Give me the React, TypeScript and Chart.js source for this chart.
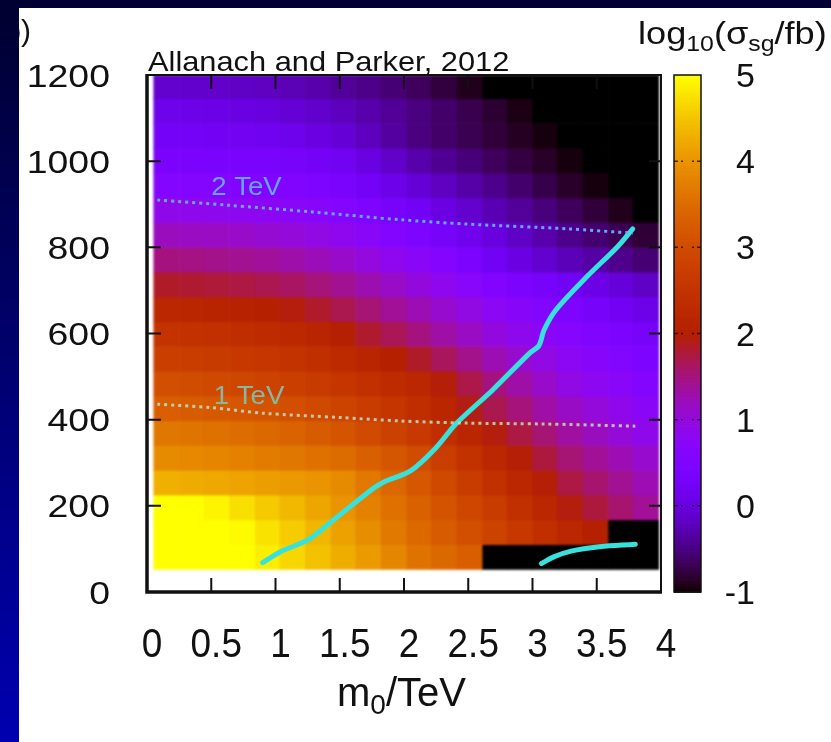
import React, { useEffect, useRef } from 'react';
import { Chart, registerables } from 'chart.js';
Chart.register(...registerables);

// ---- grid (cell edges) ----
const m0Edges = [0.05, 0.25, 0.44, 0.64, 0.84, 1.03, 1.23, 1.43, 1.62, 1.82, 2.02, 2.21, 2.41, 2.61, 2.80, 3.00, 3.19, 3.39, 3.59, 3.78, 3.98];
const mHalfEdges = [53, 110.5, 168, 225.5, 283, 340.5, 398, 455.5, 513, 570.5, 628, 685.5, 743, 800.5, 858, 915.5, 973, 1030.5, 1088, 1145.5, 1200];

// log10(sigma/fb); rows bottom -> top, columns left -> right; -2 = below colour range (black)
const log10SigmaRows: number[][] = [
  [5.4, 5.28, 5.16, 5.04, 4.86, 4.67, 4.47, 4.27, 4.08, 3.84, 3.6, 3.45, 3.3, -2, -2, -2, -2, -2, -2, -2],
  [5.3, 5.19, 5.08, 4.96, 4.76, 4.57, 4.37, 4.15, 3.92, 3.68, 3.45, 3.25, 3.05, 2.85, 2.63, 2.42, 2.2, 2.0, -2, -2],
  [5.1, 5.03, 4.92, 4.74, 4.55, 4.38, 4.2, 4.0, 3.78, 3.57, 3.35, 3.13, 2.92, 2.7, 2.45, 2.2, 1.95, 1.77, 1.58, 1.4],
  [4.3, 4.26, 4.22, 4.17, 4.12, 4.06, 4.0, 3.9, 3.67, 3.43, 3.2, 2.95, 2.7, 2.45, 2.22, 1.98, 1.75, 1.58, 1.42, 1.25],
  [3.9, 3.87, 3.83, 3.78, 3.72, 3.65, 3.58, 3.5, 3.33, 3.17, 3.0, 2.73, 2.47, 2.2, 1.98, 1.77, 1.55, 1.4, 1.25, 1.1],
  [3.65, 3.62, 3.57, 3.52, 3.45, 3.37, 3.27, 3.15, 2.98, 2.82, 2.65, 2.42, 2.18, 1.95, 1.75, 1.55, 1.35, 1.2, 1.05, 0.9],
  [3.3, 3.27, 3.23, 3.18, 3.12, 3.05, 2.96, 2.85, 2.7, 2.55, 2.4, 2.17, 1.93, 1.7, 1.52, 1.33, 1.15, 1.02, 0.88, 0.75],
  [3.05, 3.01, 2.96, 2.91, 2.85, 2.77, 2.67, 2.55, 2.43, 2.32, 2.2, 1.97, 1.73, 1.5, 1.32, 1.13, 0.95, 0.83, 0.72, 0.6],
  [2.75, 2.72, 2.68, 2.63, 2.57, 2.5, 2.41, 2.3, 2.15, 2.0, 1.85, 1.65, 1.45, 1.25, 1.1, 0.95, 0.8, 0.68, 0.57, 0.45],
  [2.5, 2.47, 2.43, 2.38, 2.32, 2.25, 2.14, 2.0, 1.83, 1.67, 1.5, 1.33, 1.17, 1.0, 0.87, 0.75, 0.62, 0.51, 0.41, 0.3],
  [2.2, 2.17, 2.13, 2.08, 2.02, 1.95, 1.84, 1.7, 1.55, 1.4, 1.25, 1.1, 0.95, 0.8, 0.68, 0.57, 0.45, 0.33, 0.22, 0.1],
  [1.85, 1.82, 1.79, 1.75, 1.7, 1.63, 1.53, 1.42, 1.28, 1.14, 1.0, 0.85, 0.7, 0.55, 0.43, 0.32, 0.2, 0.08, -0.03, -0.15],
  [1.5, 1.48, 1.45, 1.42, 1.38, 1.31, 1.23, 1.12, 0.99, 0.85, 0.72, 0.58, 0.42, 0.2, 0.05, -0.1, -0.22, -0.33, -0.44, -0.55],
  [1.2, 1.18, 1.16, 1.13, 1.08, 1.02, 0.94, 0.85, 0.72, 0.58, 0.45, 0.3, 0.15, 0.0, -0.15, -0.3, -0.45, -0.57, -0.68, -0.8],
  [0.9, 0.88, 0.86, 0.83, 0.79, 0.74, 0.68, 0.6, 0.47, 0.33, 0.2, 0.05, -0.1, -0.25, -0.38, -0.52, -0.65, -0.78, -0.9, -2],
  [0.6, 0.59, 0.58, 0.56, 0.54, 0.5, 0.45, 0.38, 0.24, 0.09, -0.05, -0.18, -0.32, -0.45, -0.58, -0.72, -0.85, -0.95, -2, -2],
  [0.4, 0.39, 0.38, 0.37, 0.35, 0.31, 0.26, 0.19, 0.03, -0.13, -0.3, -0.42, -0.53, -0.65, -0.75, -0.85, -0.95, -2, -2, -2],
  [0.25, 0.24, 0.23, 0.21, 0.18, 0.13, 0.05, -0.05, -0.2, -0.35, -0.5, -0.6, -0.69, -0.78, -0.87, -0.95, -2, -2, -2, -2],
  [0.12, 0.1, 0.08, 0.04, 0.0, -0.06, -0.13, -0.2, -0.3, -0.4, -0.5, -0.6, -0.7, -0.82, -0.93, -2, -2, -2, -2, -2],
  [-0.1, -0.11, -0.13, -0.15, -0.18, -0.24, -0.3, -0.38, -0.46, -0.55, -0.65, -0.77, -0.9, -2, -2, -2, -2, -2, -2, -2],
];

// ---- overlaid curves ----
const gluino2TeV_m0 = [0.08, 0.62, 1.29, 1.97, 2.49, 3.27, 3.78];
const gluino2TeV_mh = [910, 898, 882, 864, 854, 843, 833];
const gluino1TeV_m0 = [0.08, 0.5, 0.9, 1.5, 1.97, 2.49, 3.08, 3.8];
const gluino1TeV_mh = [436, 428, 415, 405, 397, 392, 390, 385];
const boundary_m0 = [0.9, 1.05, 1.26, 1.45, 1.76, 1.84, 2.05, 2.24, 2.41, 2.69, 2.98, 3.05, 3.09, 3.18, 3.42, 3.66, 3.78];
const boundary_mh = [68, 95, 122, 167, 240, 255, 281, 332, 392, 469, 555, 572, 608, 654, 731, 801, 843];
const lowBoundary_m0 = [3.07, 3.17, 3.3, 3.52, 3.8];
const lowBoundary_mh = [66, 82, 95, 105, 111];

// ---- tick labels ----
const xTicks = [0, 0.5, 1, 1.5, 2, 2.5, 3, 3.5, 4];
const xTickLabels = ['0', '0.5', '1', '1.5', '2', '2.5', '3', '3.5', '4'];
const yTicks = [0, 200, 400, 600, 800, 1000, 1200];
const yTickLabels = ['0', '200', '400', '600', '800', '1000', '1200'];
const cbTicks = [-1, 0, 1, 2, 3, 4, 5];
const cbTickLabels = ['-1', '0', '1', '2', '3', '4', '5'];

const FONT = '"Liberation Sans", Arial, Helvetica, sans-serif';

function palette(v: number): string {
  if (v < -1) return 'rgb(0,0,0)';
  const t = Math.min(1, Math.max(0, (v + 1) / 6));
  const r = Math.sqrt(t);
  const g = t * t * t;
  const b = Math.max(0, Math.sin(2 * Math.PI * t));
  return `rgb(${Math.round(r * 255)},${Math.round(g * 255)},${Math.round(b * 255)})`;
}

function txt(ctx: CanvasRenderingContext2D, s: string, x: number, y: number, size: number, sx: number, align: CanvasTextAlign, color = '#111') {
  ctx.save();
  ctx.font = `${size}px ${FONT}`;
  ctx.fillStyle = color;
  ctx.textAlign = align;
  ctx.textBaseline = 'alphabetic';
  ctx.translate(x, y);
  ctx.scale(sx, 1);
  ctx.fillText(s, 0, 0);
  ctx.restore();
}

function pts(xs: number[], ys: number[]) {
  return xs.map((x, i) => ({ x, y: ys[i] }));
}

const decor = {
  id: 'decor',
  beforeDraw(chart: any) {
    const ctx = chart.ctx as CanvasRenderingContext2D;
    ctx.save();
    ctx.fillStyle = '#ffffff';
    ctx.fillRect(0, 0, chart.width, chart.height);
    ctx.restore();
  },
  beforeDatasetsDraw(chart: any) {
    const ctx = chart.ctx as CanvasRenderingContext2D;
    const { chartArea: a, scales } = chart;
    const xs = scales.x, ys = scales.y;
    const w = Math.ceil(a.right - a.left), h = Math.ceil(a.bottom - a.top);
    const off = document.createElement('canvas');
    off.width = w;
    off.height = h;
    const o = off.getContext('2d') as CanvasRenderingContext2D;
    o.fillStyle = '#ffffff';
    o.fillRect(0, 0, w, h);
    for (let r = 0; r < log10SigmaRows.length; r++) {
      const row = log10SigmaRows[r];
      const yb = ys.getPixelForValue(mHalfEdges[r]) - a.top;
      const yt = ys.getPixelForValue(mHalfEdges[r + 1]) - a.top;
      for (let c = 0; c < row.length; c++) {
        const xl = xs.getPixelForValue(m0Edges[c]) - a.left;
        const xr = xs.getPixelForValue(m0Edges[c + 1]) - a.left;
        o.fillStyle = palette(row[c]);
        o.fillRect(xl, yt, xr - xl + 0.6, yb - yt + 0.6);
      }
    }
    ctx.save();
    ctx.beginPath();
    ctx.rect(a.left, a.top, a.right - a.left, a.bottom - a.top);
    ctx.clip();
    ctx.filter = 'blur(1px)';
    ctx.drawImage(off, a.left, a.top);
    ctx.filter = 'none';
    ctx.restore();
  },
  afterDatasetsDraw(chart: any) {
    const ctx = chart.ctx as CanvasRenderingContext2D;
    const { chartArea: a, scales } = chart;
    const xs = scales.x, ys = scales.y, cb = scales.cb;

    // curve labels
    txt(ctx, '2 TeV', xs.getPixelForValue(0.5), ys.getPixelForValue(921), 26, 1.06, 'left', '#63a4f4');
    txt(ctx, '1 TeV', xs.getPixelForValue(0.52), ys.getPixelForValue(436), 26, 1.06, 'left', '#86b8a4');

    // frame
    ctx.save();
    ctx.strokeStyle = '#111';
    ctx.lineWidth = 2;
    ctx.strokeRect(a.left, a.top, a.right - a.left, a.bottom - a.top);
    ctx.lineWidth = 3.5;
    ctx.beginPath();
    ctx.moveTo(a.left, a.top - 1);
    ctx.lineTo(a.left, a.bottom);
    ctx.lineTo(a.right + 1, a.bottom);
    ctx.stroke();
    // inward ticks
    ctx.lineWidth = 2;
    for (const t of xTicks) {
      if (t <= 0 || t >= 4) continue;
      const px = xs.getPixelForValue(t);
      ctx.beginPath();
      ctx.moveTo(px, a.bottom);
      ctx.lineTo(px, a.bottom - 14);
      ctx.moveTo(px, a.top);
      ctx.lineTo(px, a.top + 14);
      ctx.stroke();
    }
    for (const t of yTicks) {
      if (t <= 0 || t >= 1200) continue;
      const py = ys.getPixelForValue(t);
      ctx.beginPath();
      ctx.moveTo(a.left, py);
      ctx.lineTo(a.left + 14, py);
      ctx.moveTo(a.right, py);
      ctx.lineTo(a.right - 12, py);
      ctx.stroke();
    }
    ctx.restore();

    // tick labels
    xTicks.forEach((t, i) => {
      txt(ctx, xTickLabels[i], xs.getPixelForValue(t) + 5, 657, 41, 0.9, 'center');
    });
    yTicks.forEach((t, i) => {
      txt(ctx, yTickLabels[i], 110, ys.getPixelForValue(t) + 11.5, 32, 1.17, 'right');
    });

    // axis title m0/TeV
    ctx.save();
    ctx.fillStyle = '#111';
    ctx.textBaseline = 'alphabetic';
    let x0 = 337;
    const by = 706;
    ctx.font = `40px ${FONT}`;
    ctx.fillText('m', x0, by); x0 += ctx.measureText('m').width;
    ctx.font = `28px ${FONT}`;
    ctx.fillText('0', x0, by + 8); x0 += ctx.measureText('0').width;
    ctx.font = `40px ${FONT}`;
    ctx.fillText('/TeV', x0, by);
    ctx.restore();

    // colour bar
    const cbL = 674, cbR = 701;
    const top = cb.getPixelForValue(5), bot = cb.getPixelForValue(-1);
    const steps = 240;
    for (let i = 0; i < steps; i++) {
      const v0 = -1 + (6 * i) / steps;
      const v1 = -1 + (6 * (i + 1)) / steps;
      const y0 = cb.getPixelForValue(v0), y1 = cb.getPixelForValue(v1);
      ctx.fillStyle = palette((v0 + v1) / 2);
      ctx.fillRect(cbL, y1, cbR - cbL, y0 - y1 + 0.8);
    }
    ctx.save();
    ctx.strokeStyle = '#111';
    ctx.lineWidth = 1.5;
    ctx.strokeRect(cbL, top, cbR - cbL, bot - top);
    ctx.strokeStyle = 'rgba(20,0,20,0.75)';
    ctx.lineWidth = 1.5;
    ctx.setLineDash([4, 3]);
    for (const t of cbTicks) {
      if (t <= -1 || t >= 5) continue;
      const py = cb.getPixelForValue(t);
      ctx.beginPath();
      ctx.moveTo(cbL, py);
      ctx.lineTo(cbL + 9, py);
      ctx.moveTo(cbR, py);
      ctx.lineTo(cbR - 9, py);
      ctx.stroke();
    }
    ctx.restore();
    cbTicks.forEach((t, i) => {
      txt(ctx, cbTickLabels[i], 755, cb.getPixelForValue(t) + 12, 34, 1.0, 'right');
    });

    // colour bar title log10(sigma_sg/fb)
    ctx.save();
    ctx.fillStyle = '#111';
    ctx.translate(638, 44);
    ctx.scale(1.13, 1);
    let cx = 0;
    const seg = (s: string, size: number, dy: number) => {
      ctx.font = `${size}px ${FONT}`;
      ctx.fillText(s, cx, dy);
      cx += ctx.measureText(s).width;
    };
    seg('log', 32, 0);
    seg('10', 22, 7);
    seg('(σ', 32, 0);
    seg('sg', 22, 7);
    seg('/fb)', 32, 0);
    ctx.restore();

    // attribution
    txt(ctx, 'Allanach and Parker, 2012', 148, 71, 28, 1.1, 'left');
  },
  afterDraw(chart: any) {
    const ctx = chart.ctx as CanvasRenderingContext2D;
    // panel label, partly hidden by the slide border
    txt(ctx, 'b)', 31, 41, 30, 1.0, 'right');
    ctx.save();
    const g = ctx.createLinearGradient(0, 0, 0, chart.height);
    g.addColorStop(0, '#000030');
    g.addColorStop(1, '#0000b0');
    ctx.fillStyle = g;
    ctx.fillRect(0, 0, 19, chart.height);
    ctx.fillStyle = '#000032';
    ctx.fillRect(0, 0, chart.width, 8);
    ctx.restore();
  },
};

export default function App() {
  const ref = useRef<HTMLCanvasElement | null>(null);
  useEffect(() => {
    document.body.style.margin = '0';
    const canvas = ref.current;
    if (!canvas) return;
    const dotted = (color: string) => ({
      borderColor: color,
      borderWidth: 3,
      borderDash: [3, 4],
      borderCapStyle: 'butt' as const,
      pointRadius: 0,
      showLine: true,
      tension: 0.3,
      fill: false,
    });
    const chart = new Chart(canvas, {
      type: 'scatter',
      data: {
        datasets: [
          { label: '2 TeV', data: pts(gluino2TeV_m0, gluino2TeV_mh), ...dotted('#6aa6ff') },
          { label: '1 TeV', data: pts(gluino1TeV_m0, gluino1TeV_mh), ...dotted('rgba(190,222,200,0.85)') },
          { label: 'boundary', data: pts(boundary_m0, boundary_mh), borderColor: '#38e2dc', borderWidth: 5, pointRadius: 0, showLine: true, tension: 0.3, borderCapStyle: 'round', fill: false },
          { label: 'low boundary', data: pts(lowBoundary_m0, lowBoundary_mh), borderColor: '#38e2dc', borderWidth: 5, pointRadius: 0, showLine: true, tension: 0.4, borderCapStyle: 'round', fill: false },
        ],
      },
      options: {
        responsive: false,
        animation: false,
        events: [],
        layout: { padding: { left: 147, right: 170, top: 75, bottom: 150 } },
        plugins: { legend: { display: false }, tooltip: { enabled: false } },
        scales: {
          x: { type: 'linear', min: 0, max: 4, display: false },
          y: { type: 'linear', min: 0, max: 1200, display: false },
          cb: { type: 'linear', axis: 'y', position: 'right', min: -1, max: 5, display: false },
        },
      },
      plugins: [decor],
    });
    return () => chart.destroy();
  }, []);
  return <canvas ref={ref} width={831} height={742} style={{ display: 'block', width: 831, height: 742 }} />;
}
